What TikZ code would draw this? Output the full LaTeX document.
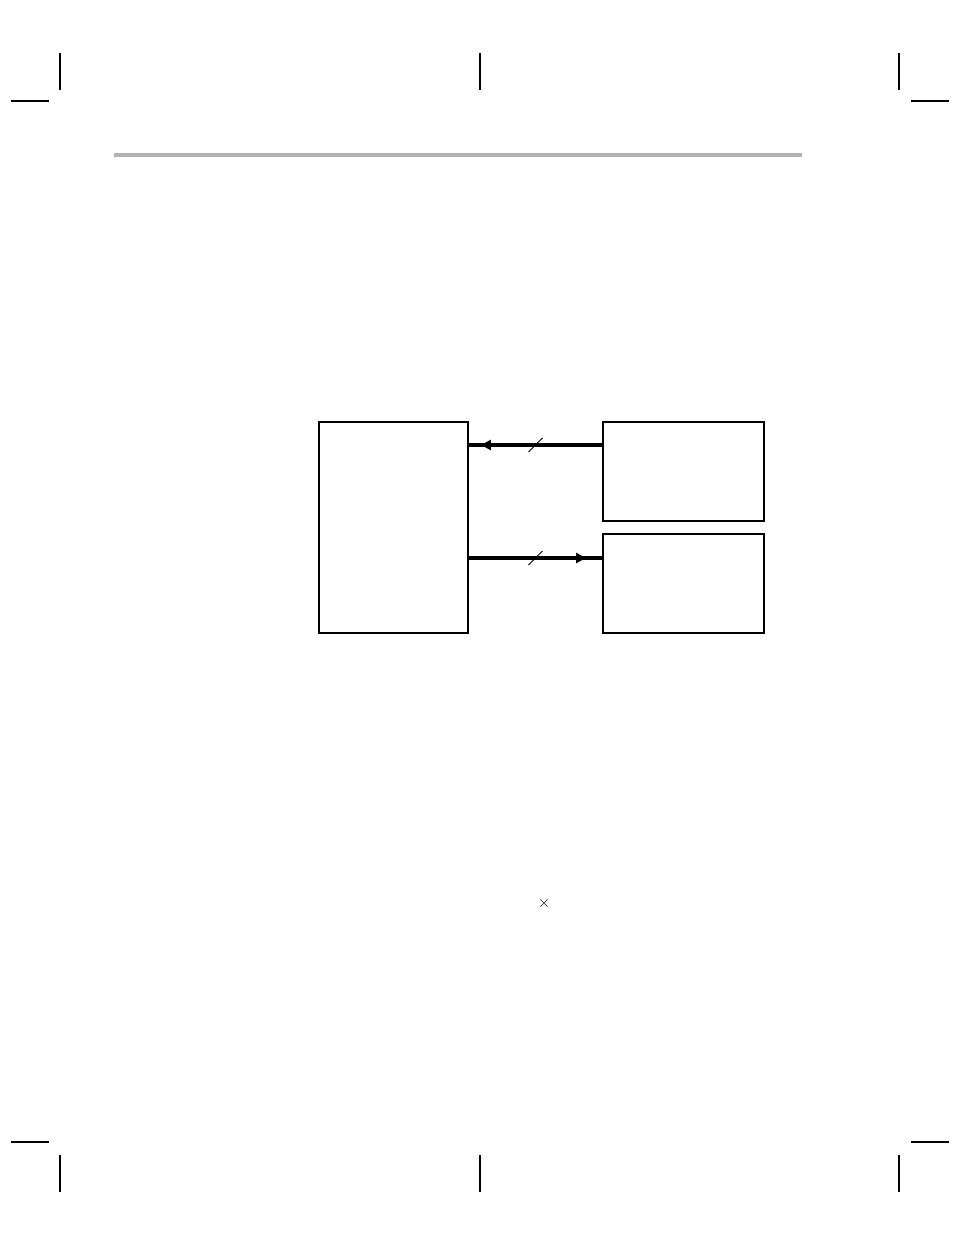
\documentclass[tikz,border=0pt]{standalone}
\usepackage{amsmath}
\usepackage{tikz}
\usetikzlibrary{arrows.meta,decorations.markings,calc}

\begin{document}
\begin{tikzpicture}[x=0.75pt, y=-0.75pt,
  cropmark/.style={line width=0.8pt, black},
  headrule/.style={line width=2.5pt, black!30},
  block/.style={draw, line width=1.5pt, rectangle, inner sep=0pt},
  bus/.style={line width=2.6pt, postaction={decorate}},
  tipat/.style={decoration={markings,
    mark=at position #1 with {\arrow{Triangle[length=7.5pt,width=7.5pt]}}}},
  slash/.style={line width=0.6pt}]
\useasboundingbox (0,0) rectangle (954,1235);
% crop marks
\foreach \cx in {60,480,899}{
  \draw[cropmark] (\cx,53) -- (\cx,90);
  \draw[cropmark] (\cx,1155) -- (\cx,1192);
}
\foreach \hx in {11,911}{
  \draw[cropmark] (\hx,101) -- ++(38,0);
  \draw[cropmark] (\hx,1142) -- ++(38,0);
}
\draw[headrule] (114,155) -- (802,155);
% blocks
\node[block, minimum width=111.75pt, minimum height=158.25pt] (host) at (393.5,527.5) {};
\node[block, minimum width=120.75pt, minimum height=74.25pt] (devin) at (683.5,471.5) {};
\node[block, minimum width=120.75pt, minimum height=74.25pt] (devout) at (683.5,583.5) {};
\coordinate (hin) at (host.east |- 0,445);
\coordinate (hout) at (host.east |- 0,558);
% buses
\draw[bus, tipat=0.91] (devin.west |- hin) -- (hin);
\draw[bus, tipat=0.88] (hout) -- (devout.west |- hout);
\draw[slash] ($(hin)!0.5!(devin.west |- hin)$) +(-7,7) -- +(7,-7);
\draw[slash] ($(hout)!0.5!(devout.west |- hout)$) +(-7,7) -- +(7,-7);
\node (times) at (544,903) {\large$\times$};
\end{tikzpicture}
\end{document}
